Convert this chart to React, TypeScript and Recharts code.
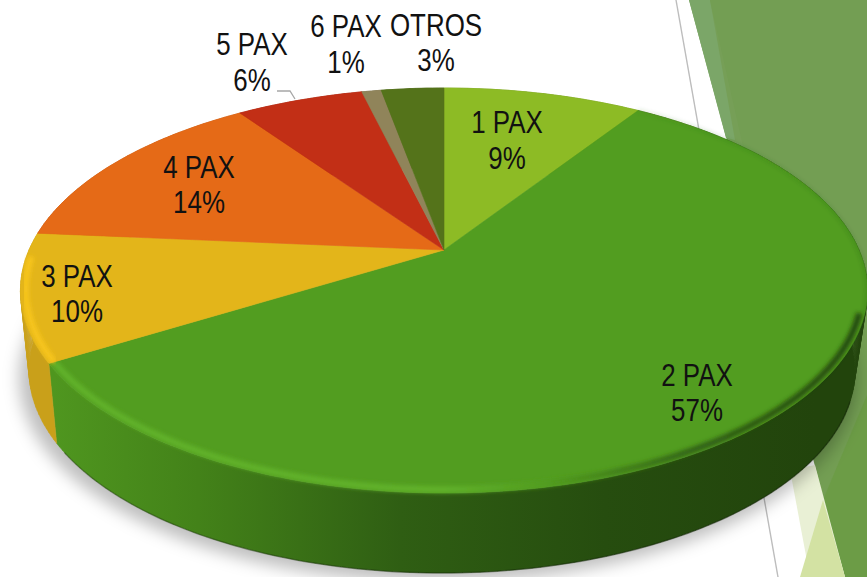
import { PieChart, Pie } from 'recharts'

const categories = ['1 PAX', '2 PAX', '3 PAX', '4 PAX', '5 PAX', '6 PAX', 'OTROS']
const shares = [9.2, 57.05, 10.15, 13.9, 5.9, 0.9, 2.9]
const topColors = ['#8DBB25', '#529D20', '#E3B51A', '#E56A17', '#C22F16', '#90845A', '#54731A']
const wallColors = ['#6d911c', '#4f961f', '#c9a01a', '#b5530f', '#962411', '#6f6645', '#415912']
const rimColors = ['#a5d42f', '#62b32b', '#f8c61e', '#f57f22', '#d83c20', '#a59a6c', '#648a20']

// label centres: x, first line y, second line y
const labelSpots = [
  [507, 122, 158],
  [697, 375, 410],
  [77, 276, 311],
  [199, 167, 202],
  [252, 44, 80],
  [346, 26, 62],
  [436, 25, 60],
]

const rows = categories.map((name, i) => ({ name, value: shares[i], fill: topColors[i] }))

const WIDTH = 867
const HEIGHT = 577
const CX = 444
const CY = 250
const RADIUS = 415
const SQUASH = 0.4685
const TILT = 0.2
const DEPTH = 80

// 3D tilt: a point on the flat pie, seen in perspective
function project(cx: number, cy: number, r: number, compass: number, frac = 1) {
  const t = (compass * Math.PI) / 180
  const u = Math.sin(t) * frac
  const v = -Math.cos(t) * frac
  const w = 1 - TILT * v
  return [cx + (r * u) / w, cy + (r * SQUASH * v) / w]
}

function lower(p: number[], cx: number) {
  return [cx + (p[0] - cx) * 0.975 - 2, p[1] + DEPTH]
}

function arcPoints(cx: number, cy: number, r: number, from: number, to: number, frac = 1) {
  const pts: number[][] = []
  const n = Math.max(2, Math.ceil(Math.abs(to - from)))
  for (let i = 0; i <= n; i++) {
    pts.push(project(cx, cy, r, from + ((to - from) * i) / n, frac))
  }
  return pts
}

const toPath = (pts: number[][]) =>
  pts.map((p, i) => `${i === 0 ? 'M' : 'L'}${p[0].toFixed(1)} ${p[1].toFixed(1)}`).join(' ')

function WallSlice(props: any) {
  const { cx, cy, outerRadius, startAngle, endAngle, name } = props
  const i = categories.indexOf(name)
  const from = 90 - startAngle
  const to = 90 - endAngle
  const top = arcPoints(cx, cy, outerRadius, from, to)
  const bottom = top.map((p) => lower(p, cx))
  // one quad per step, so the wall also fills the turn at the left and right ends
  const quads = top
    .slice(1)
    .map((p, k) => toPath([top[k], p, bottom[k + 1], bottom[k]]) + ' Z')
    .join(' ')
  const edgeFrom = Math.max(from, 110)
  const edgeTo = Math.min(to, 236)
  return (
    <g>
      <path d={quads} fill={`url(#wall${i})`} stroke={`url(#wall${i})`} strokeWidth={0.5} />
      {edgeTo > edgeFrom && (
        <path
          d={toPath(arcPoints(cx, cy, outerRadius, edgeFrom, edgeTo).map((p) => lower(p, cx)))}
          fill="none"
          stroke="#000"
          strokeOpacity={0.25}
          strokeWidth={1.5}
        />
      )}
    </g>
  )
}

function TopSlice(props: any) {
  const { cx, cy, outerRadius, startAngle, endAngle, name, fill } = props
  const i = categories.indexOf(name)
  const from = 90 - startAngle
  const to = 90 - endAngle
  const arc = arcPoints(cx, cy, outerRadius, from, to)
  const a = Math.max(from, 108)
  const b = Math.min(to, 268)
  const backEnd = Math.min(to, 108)
  return (
    <g>
      <path d={toPath([[cx, cy], ...arc]) + ' Z'} fill={fill} stroke={fill} strokeWidth={0.6} />
      {b > a && (
        <path
          d={toPath(arcPoints(cx, cy, outerRadius, a, b, 0.988))}
          fill="none"
          stroke={`url(#rim${i})`}
          strokeWidth={6}
          filter="url(#soft)"
        />
      )}
      {i === 1 && backEnd > from && (
        <path
          d={toPath(arcPoints(cx, cy, outerRadius, from, backEnd, 0.998))}
          fill="none"
          stroke={`url(#rim${i})`}
          strokeWidth={1.5}
          strokeOpacity={0.35}
          filter="url(#soft)"
        />
      )}
    </g>
  )
}

function sliceLabel(props: any) {
  const i = categories.indexOf(props.name)
  const [x, y1, y2] = labelSpots[i]
  const common = {
    x: 0,
    textAnchor: 'middle' as const,
    dominantBaseline: 'central' as const,
    fontFamily: '"Liberation Sans", sans-serif',
    fontSize: 32,
    fill: '#111',
  }
  // the reference text is squeezed sideways
  return (
    <g key={props.name} transform={`translate(${x} 0) scale(0.81 1)`}>
      <text {...common} y={y1}>{props.name}</text>
      <text {...common} y={y2}>{`${Math.round(shares[i])}%`}</text>
    </g>
  )
}

function leaderLine(props: any) {
  if (props.name !== '5 PAX') return <g key={props.name} />
  return <path key={props.name} d="M277 91 L290 91 L295 99" fill="none" stroke="#a6a6a6" strokeWidth={1.3} />
}

function Backdrop() {
  return (
    <svg width={WIDTH} height={HEIGHT} style={{ position: 'absolute', left: 0, top: 0 }}>
      <defs>
        <filter id="shadow" x="-10%" y="-10%" width="120%" height="120%">
          <feGaussianBlur stdDeviation="8" />
        </filter>
      </defs>
      <line x1={676} y1={0} x2={778} y2={577} stroke="#bdbdbd" strokeWidth={1.4} />
      <polygon points="689,0 867,0 867,577 845,577" fill="#769f57" />
      <polygon points="689,0 710,0 735,140 726,138" fill="#7ba668" />
      <polygon points="710,0 867,0 867,395 823,500" fill="#739e53" />
      <polygon points="823,500 867,395 867,577 845,577" fill="#6c9c46" />
      <polygon points="790,470 815,465 845,577 810,577" fill="#e9f0d5" />
      <polygon points="823,500 845,577 800,577" fill="#d3e2a3" />
      <ellipse cx={438} cy={378} rx={419} ry={204} fill="#000" fillOpacity={0.25} filter="url(#shadow)" />
    </svg>
  )
}

export default function App() {
  return (
    <div style={{ position: 'absolute', left: 0, top: 0, width: WIDTH, height: HEIGHT, overflow: 'hidden', background: '#fff' }}>
      <Backdrop />
      <div style={{ position: 'absolute', left: 0, top: 0 }}>
        <PieChart width={WIDTH} height={HEIGHT} margin={{ top: 0, right: 0, bottom: 0, left: 0 }}>
          <defs>
            <filter id="soft" x="-5%" y="-5%" width="110%" height="110%">
              <feGaussianBlur stdDeviation="2" />
            </filter>
            {categories.map((name, i) => (
              <linearGradient key={name} id={`wall${i}`} gradientUnits="userSpaceOnUse" x1={20} y1={0} x2={867} y2={0}>
                <stop offset="0.04" stopColor={wallColors[i]} />
                <stop offset="0.21" stopColor={i === 1 ? '#438219' : wallColors[i]} />
                <stop offset="0.45" stopColor={i === 1 ? '#2f5e13' : wallColors[i]} />
                <stop offset="0.69" stopColor={i === 1 ? '#264d0f' : wallColors[i]} />
                <stop offset="0.94" stopColor={i === 1 ? '#22440c' : wallColors[i]} />
              </linearGradient>
            ))}
            {categories.map((name, i) => (
              <linearGradient key={name} id={`rim${i}`} gradientUnits="userSpaceOnUse" x1={20} y1={0} x2={867} y2={0}>
                <stop offset="0.05" stopColor={rimColors[i]} />
                <stop offset="0.5" stopColor={rimColors[i]} />
                <stop offset="0.62" stopColor={topColors[i]} />
                <stop offset="0.8" stopColor={i === 1 ? '#2f5e13' : topColors[i]} />
                <stop offset="1" stopColor={i === 1 ? '#22440c' : topColors[i]} />
              </linearGradient>
            ))}
          </defs>
          <Pie
            data={rows}
            dataKey="value"
            nameKey="name"
            cx={CX}
            cy={CY}
            outerRadius={RADIUS}
            startAngle={90}
            endAngle={-270}
            stroke="none"
            label={false}
            labelLine={false}
            shape={WallSlice}
            isAnimationActive={false}
          />
          <Pie
            data={rows}
            dataKey="value"
            nameKey="name"
            cx={CX}
            cy={CY}
            outerRadius={RADIUS}
            startAngle={90}
            endAngle={-270}
            stroke="none"
            label={sliceLabel}
            labelLine={leaderLine}
            shape={TopSlice}
            isAnimationActive={false}
          />
        </PieChart>
      </div>
    </div>
  )
}
